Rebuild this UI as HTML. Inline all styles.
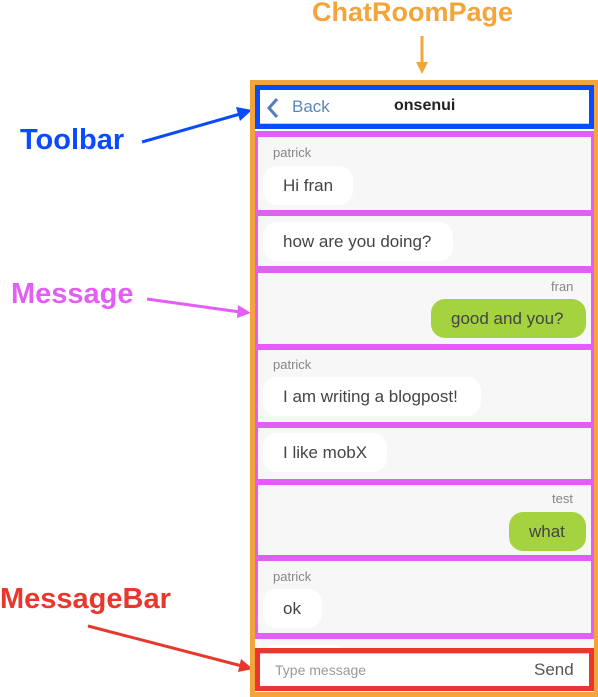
<!DOCTYPE html>
<html><head><style>
body{margin:0;width:598px;height:697px;position:relative;background:#fff;font-family:"Liberation Sans",Arial,sans-serif;overflow:hidden}
.a{position:absolute}
.g{position:absolute;left:258px;width:333px;background:#f7f7f7}
.b{position:absolute;background:#fff;border-radius:14px;font-size:17px;color:#444;line-height:39px;height:39px;padding:0 20px;box-sizing:border-box;white-space:nowrap}
.gr{background:#a4d33f}
.n{position:absolute;font-size:13px;color:#8a8484}
.lbl{position:absolute;font-weight:bold;font-size:29px}
</style></head><body>
<div class="lbl" style="left:312px;top:-3px;color:#f3a43a;font-size:27px">ChatRoomPage</div>
<div class="lbl" style="left:20px;top:124px;color:#0a4bff">Toolbar</div>
<div class="lbl" style="left:11px;top:278px;color:#e35ef5">Message</div>
<div class="lbl" style="left:0px;top:583px;color:#e8382e">MessageBar</div>
<svg class="a" style="left:0;top:0" width="598" height="697">
<line x1="422" y1="36" x2="422" y2="64" stroke="#f3a43a" stroke-width="3"/><polygon points="416,62 428,62 422,74" fill="#f3a43a"/>
<line x1="142" y1="142" x2="240" y2="114" stroke="#0a4bff" stroke-width="3"/><polygon points="236,107 240,121 252,110" fill="#0a4bff"/>
<line x1="147" y1="299" x2="240" y2="312" stroke="#e35ef5" stroke-width="3"/><polygon points="238,305 237,318 251,313" fill="#e35ef5"/>
<line x1="88" y1="626" x2="242" y2="666" stroke="#e8382e" stroke-width="3"/><polygon points="241,659 238,672 253,669" fill="#e8382e"/>
</svg>
<div class="a" style="left:250px;top:80px;width:348px;height:617px;background:#f3a43a"></div>
<div class="a" style="left:255px;top:85px;width:339px;height:607px;background:#f7f7f7"></div>
<div class="a" style="left:255px;top:85px;width:339px;height:44px;background:#0a4bff"></div>
<div class="a" style="left:260px;top:90px;width:329px;height:33px;background:#fff;border-bottom:1px solid #ccc"></div>
<svg class="a" style="left:266px;top:97px" width="14" height="22"><polyline points="11,2 3,11 11,20" fill="none" stroke="#4f7fbf" stroke-width="3"/></svg>
<div class="a" style="left:292px;top:97px;font-size:17px;color:#5a86bf">Back</div>
<div class="a" style="left:394px;top:97px;font-size:16px;font-weight:bold;color:#222">onsenui</div>
<div class="a" style="left:255px;top:129px;width:339px;height:2px;background:#fff"></div>
<div class="a" style="left:255px;top:131px;width:339px;height:508px;background:#e35ef5"></div>
<div class="g" style="top:137px;height:73px"></div>
<div class="g" style="top:216px;height:50px"></div>
<div class="g" style="top:273px;height:71px"></div>
<div class="g" style="top:350px;height:72px"></div>
<div class="g" style="top:428px;height:51px"></div>
<div class="g" style="top:485px;height:70px"></div>
<div class="g" style="top:561px;height:72px"></div>
<div class="n" style="left:273px;top:145px">patrick</div>
<div class="b" style="left:263px;top:166px;width:90px">Hi fran</div>
<div class="b" style="left:263px;top:222px;width:190px">how are you doing?</div>
<div class="n" style="left:551px;top:279px">fran</div>
<div class="b gr" style="left:431px;top:299px;width:155px">good and you?</div>
<div class="n" style="left:273px;top:357px">patrick</div>
<div class="b" style="left:263px;top:377px;width:218px">I am writing a blogpost!</div>
<div class="b" style="left:263px;top:433px;width:124px">I like mobX</div>
<div class="n" style="left:552px;top:491px">test</div>
<div class="b gr" style="left:509px;top:512px;width:77px">what</div>
<div class="n" style="left:273px;top:569px">patrick</div>
<div class="b" style="left:263px;top:589px;width:59px">ok</div>
<div class="a" style="left:263px;top:645px;width:82px;height:10px;background:#fff;border-radius:10px 10px 0 0"></div>
<div class="a" style="left:255px;top:648px;width:339px;height:43px;background:#e8382e"></div>
<div class="a" style="left:260px;top:653px;width:329px;height:33px;background:#fff;border-top:1px solid #ccc;box-sizing:border-box"></div>
<div class="a" style="left:275px;top:662px;font-size:14px;color:#999">Type message</div>
<div class="a" style="left:534px;top:660px;font-size:17px;color:#555">Send</div>
</body></html>
